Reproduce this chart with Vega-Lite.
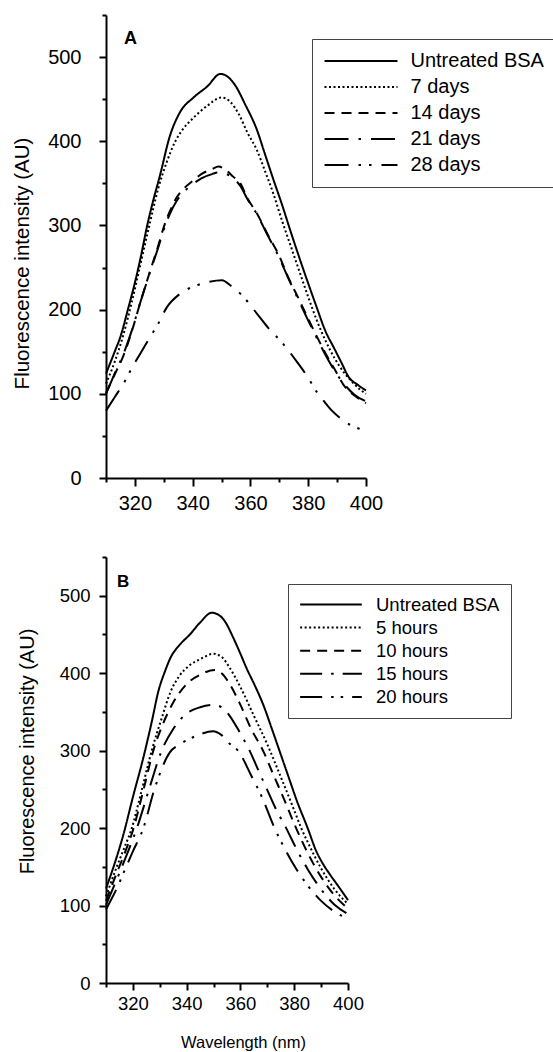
{
  "$schema": "https://vega.github.io/schema/vega-lite/v6.json",
  "background": "white",
  "padding": {"left": 12, "top": 5, "right": 0, "bottom": 0},
  "config": {
    "font": "Liberation Sans",
    "view": {"stroke": null},
    "line": {"color": "black", "strokeWidth": 2},
    "axis": {"domainColor": "black", "domainWidth": 2, "tickColor": "black", "tickWidth": 2, "labelColor": "black", "titleColor": "black", "titleFontWeight": "normal", "grid": false, "labelFont": "Liberation Sans", "titleFont": "Liberation Sans", "labelOverlap": false, "labelFlush": false, "labelBound": false},
    "title": {"font": "Liberation Sans", "color": "black"},
    "concat": {"spacing": 35}
  },
  "datasets": {
    "a": [
      {"series": "Untreated BSA", "wl": 310, "fi": 124}, {"series": "Untreated BSA", "wl": 313, "fi": 150}, {"series": "Untreated BSA", "wl": 315, "fi": 168}, {"series": "Untreated BSA", "wl": 317.8, "fi": 203}, {"series": "Untreated BSA", "wl": 320, "fi": 232}, {"series": "Untreated BSA", "wl": 322, "fi": 262}, {"series": "Untreated BSA", "wl": 324.2, "fi": 299}, {"series": "Untreated BSA", "wl": 326, "fi": 325}, {"series": "Untreated BSA", "wl": 328.8, "fi": 361}, {"series": "Untreated BSA", "wl": 332, "fi": 405}, {"series": "Untreated BSA", "wl": 335.7, "fi": 435}, {"series": "Untreated BSA", "wl": 340.3, "fi": 452}, {"series": "Untreated BSA", "wl": 345, "fi": 465}, {"series": "Untreated BSA", "wl": 349.6, "fi": 480}, {"series": "Untreated BSA", "wl": 352, "fi": 477}, {"series": "Untreated BSA", "wl": 355, "fi": 465}, {"series": "Untreated BSA", "wl": 358, "fi": 445}, {"series": "Untreated BSA", "wl": 362.3, "fi": 413}, {"series": "Untreated BSA", "wl": 365, "fi": 385}, {"series": "Untreated BSA", "wl": 368, "fi": 354}, {"series": "Untreated BSA", "wl": 371, "fi": 324}, {"series": "Untreated BSA", "wl": 373.8, "fi": 294}, {"series": "Untreated BSA", "wl": 376.7, "fi": 264}, {"series": "Untreated BSA", "wl": 379.6, "fi": 235}, {"series": "Untreated BSA", "wl": 382.7, "fi": 205}, {"series": "Untreated BSA", "wl": 385.9, "fi": 175}, {"series": "Untreated BSA", "wl": 389, "fi": 154}, {"series": "Untreated BSA", "wl": 391.5, "fi": 137}, {"series": "Untreated BSA", "wl": 394, "fi": 120}, {"series": "Untreated BSA", "wl": 397, "fi": 111}, {"series": "Untreated BSA", "wl": 400, "fi": 104},
      {"series": "7 days", "wl": 310, "fi": 112}, {"series": "7 days", "wl": 313, "fi": 138}, {"series": "7 days", "wl": 316, "fi": 170}, {"series": "7 days", "wl": 319, "fi": 210}, {"series": "7 days", "wl": 322, "fi": 255}, {"series": "7 days", "wl": 325, "fi": 300}, {"series": "7 days", "wl": 328, "fi": 343}, {"series": "7 days", "wl": 331, "fi": 375}, {"series": "7 days", "wl": 334, "fi": 400}, {"series": "7 days", "wl": 337, "fi": 416}, {"series": "7 days", "wl": 340, "fi": 427}, {"series": "7 days", "wl": 345, "fi": 442}, {"series": "7 days", "wl": 350, "fi": 452}, {"series": "7 days", "wl": 353, "fi": 447}, {"series": "7 days", "wl": 356, "fi": 432}, {"series": "7 days", "wl": 359, "fi": 410}, {"series": "7 days", "wl": 362.3, "fi": 389}, {"series": "7 days", "wl": 365, "fi": 365}, {"series": "7 days", "wl": 368, "fi": 337}, {"series": "7 days", "wl": 371, "fi": 305}, {"series": "7 days", "wl": 374, "fi": 275}, {"series": "7 days", "wl": 377, "fi": 245}, {"series": "7 days", "wl": 380, "fi": 215}, {"series": "7 days", "wl": 383, "fi": 187}, {"series": "7 days", "wl": 386, "fi": 163}, {"series": "7 days", "wl": 389, "fi": 143}, {"series": "7 days", "wl": 392, "fi": 127}, {"series": "7 days", "wl": 395, "fi": 115}, {"series": "7 days", "wl": 398, "fi": 105}, {"series": "7 days", "wl": 400, "fi": 100},
      {"series": "14 days", "wl": 310, "fi": 101}, {"series": "14 days", "wl": 313, "fi": 123}, {"series": "14 days", "wl": 316, "fi": 145}, {"series": "14 days", "wl": 319, "fi": 175}, {"series": "14 days", "wl": 322, "fi": 210}, {"series": "14 days", "wl": 325, "fi": 243}, {"series": "14 days", "wl": 328, "fi": 275}, {"series": "14 days", "wl": 330, "fi": 298}, {"series": "14 days", "wl": 332, "fi": 316}, {"series": "14 days", "wl": 334.6, "fi": 334}, {"series": "14 days", "wl": 337, "fi": 344}, {"series": "14 days", "wl": 340.4, "fi": 354}, {"series": "14 days", "wl": 343, "fi": 361}, {"series": "14 days", "wl": 346.7, "fi": 367}, {"series": "14 days", "wl": 349, "fi": 370}, {"series": "14 days", "wl": 351, "fi": 367}, {"series": "14 days", "wl": 354, "fi": 358}, {"series": "14 days", "wl": 356.5, "fi": 350}, {"series": "14 days", "wl": 359, "fi": 332}, {"series": "14 days", "wl": 362.3, "fi": 314}, {"series": "14 days", "wl": 366, "fi": 289}, {"series": "14 days", "wl": 369.8, "fi": 265}, {"series": "14 days", "wl": 373, "fi": 239}, {"series": "14 days", "wl": 376.7, "fi": 213}, {"series": "14 days", "wl": 380, "fi": 189}, {"series": "14 days", "wl": 383, "fi": 168}, {"series": "14 days", "wl": 386, "fi": 148}, {"series": "14 days", "wl": 389, "fi": 130}, {"series": "14 days", "wl": 392.8, "fi": 108}, {"series": "14 days", "wl": 396, "fi": 98}, {"series": "14 days", "wl": 400, "fi": 89},
      {"series": "21 days", "wl": 310, "fi": 100}, {"series": "21 days", "wl": 313, "fi": 124}, {"series": "21 days", "wl": 316, "fi": 147}, {"series": "21 days", "wl": 319, "fi": 176}, {"series": "21 days", "wl": 322, "fi": 210}, {"series": "21 days", "wl": 325, "fi": 242}, {"series": "21 days", "wl": 328, "fi": 273}, {"series": "21 days", "wl": 330, "fi": 295}, {"series": "21 days", "wl": 332, "fi": 313}, {"series": "21 days", "wl": 334.6, "fi": 330}, {"series": "21 days", "wl": 337, "fi": 340}, {"series": "21 days", "wl": 340.4, "fi": 350}, {"series": "21 days", "wl": 343, "fi": 356}, {"series": "21 days", "wl": 346.7, "fi": 361}, {"series": "21 days", "wl": 349, "fi": 363}, {"series": "21 days", "wl": 351, "fi": 362}, {"series": "21 days", "wl": 354, "fi": 356}, {"series": "21 days", "wl": 356.5, "fi": 347}, {"series": "21 days", "wl": 359, "fi": 331}, {"series": "21 days", "wl": 362.3, "fi": 313}, {"series": "21 days", "wl": 366, "fi": 288}, {"series": "21 days", "wl": 369.8, "fi": 263}, {"series": "21 days", "wl": 373, "fi": 238}, {"series": "21 days", "wl": 376.7, "fi": 211}, {"series": "21 days", "wl": 380, "fi": 187}, {"series": "21 days", "wl": 383, "fi": 166}, {"series": "21 days", "wl": 386, "fi": 146}, {"series": "21 days", "wl": 389, "fi": 128}, {"series": "21 days", "wl": 392.8, "fi": 110}, {"series": "21 days", "wl": 396, "fi": 99}, {"series": "21 days", "wl": 400, "fi": 91},
      {"series": "28 days", "wl": 310, "fi": 80}, {"series": "28 days", "wl": 313, "fi": 96}, {"series": "28 days", "wl": 316.7, "fi": 116}, {"series": "28 days", "wl": 319, "fi": 131}, {"series": "28 days", "wl": 321.9, "fi": 148}, {"series": "28 days", "wl": 325, "fi": 166}, {"series": "28 days", "wl": 327.7, "fi": 181}, {"series": "28 days", "wl": 331.1, "fi": 203}, {"series": "28 days", "wl": 335.7, "fi": 219}, {"series": "28 days", "wl": 341.5, "fi": 229}, {"series": "28 days", "wl": 345.5, "fi": 233}, {"series": "28 days", "wl": 350.2, "fi": 235}, {"series": "28 days", "wl": 353, "fi": 229}, {"series": "28 days", "wl": 357.1, "fi": 217}, {"series": "28 days", "wl": 362.3, "fi": 195}, {"series": "28 days", "wl": 366, "fi": 179}, {"series": "28 days", "wl": 370.9, "fi": 161}, {"series": "28 days", "wl": 376.1, "fi": 138}, {"series": "28 days", "wl": 380, "fi": 119}, {"series": "28 days", "wl": 383, "fi": 102}, {"series": "28 days", "wl": 385.5, "fi": 91}, {"series": "28 days", "wl": 388.2, "fi": 80}, {"series": "28 days", "wl": 391.5, "fi": 70}, {"series": "28 days", "wl": 395.1, "fi": 62}, {"series": "28 days", "wl": 398, "fi": 58}, {"series": "28 days", "wl": 400, "fi": 55}
    ],
    "b": [
      {"series": "Untreated BSA", "wl": 310, "fi": 122}, {"series": "Untreated BSA", "wl": 313, "fi": 152}, {"series": "Untreated BSA", "wl": 316.5, "fi": 192}, {"series": "Untreated BSA", "wl": 320, "fi": 240}, {"series": "Untreated BSA", "wl": 323.9, "fi": 291}, {"series": "Untreated BSA", "wl": 327, "fi": 337}, {"series": "Untreated BSA", "wl": 329.5, "fi": 377}, {"series": "Untreated BSA", "wl": 332, "fi": 403}, {"series": "Untreated BSA", "wl": 334, "fi": 420}, {"series": "Untreated BSA", "wl": 337.5, "fi": 437}, {"series": "Untreated BSA", "wl": 341.2, "fi": 450}, {"series": "Untreated BSA", "wl": 344.9, "fi": 465}, {"series": "Untreated BSA", "wl": 349.3, "fi": 478}, {"series": "Untreated BSA", "wl": 352, "fi": 475}, {"series": "Untreated BSA", "wl": 354, "fi": 468}, {"series": "Untreated BSA", "wl": 357.3, "fi": 446}, {"series": "Untreated BSA", "wl": 360, "fi": 425}, {"series": "Untreated BSA", "wl": 362.2, "fi": 407}, {"series": "Untreated BSA", "wl": 365.5, "fi": 383}, {"series": "Untreated BSA", "wl": 368.4, "fi": 360}, {"series": "Untreated BSA", "wl": 371.5, "fi": 330}, {"series": "Untreated BSA", "wl": 374.5, "fi": 300}, {"series": "Untreated BSA", "wl": 378, "fi": 265}, {"series": "Untreated BSA", "wl": 381, "fi": 235}, {"series": "Untreated BSA", "wl": 385, "fi": 200}, {"series": "Untreated BSA", "wl": 388.1, "fi": 171}, {"series": "Untreated BSA", "wl": 391, "fi": 152}, {"series": "Untreated BSA", "wl": 393.1, "fi": 141}, {"series": "Untreated BSA", "wl": 396.8, "fi": 123}, {"series": "Untreated BSA", "wl": 400, "fi": 107},
      {"series": "5 hours", "wl": 310, "fi": 112}, {"series": "5 hours", "wl": 314, "fi": 150}, {"series": "5 hours", "wl": 316.5, "fi": 172}, {"series": "5 hours", "wl": 319.6, "fi": 200}, {"series": "5 hours", "wl": 323, "fi": 245}, {"series": "5 hours", "wl": 327, "fi": 300}, {"series": "5 hours", "wl": 331, "fi": 345}, {"series": "5 hours", "wl": 334, "fi": 376}, {"series": "5 hours", "wl": 337, "fi": 395}, {"series": "5 hours", "wl": 341, "fi": 410}, {"series": "5 hours", "wl": 345, "fi": 418}, {"series": "5 hours", "wl": 350, "fi": 425}, {"series": "5 hours", "wl": 353, "fi": 421}, {"series": "5 hours", "wl": 356, "fi": 407}, {"series": "5 hours", "wl": 360, "fi": 382}, {"series": "5 hours", "wl": 365, "fi": 345}, {"series": "5 hours", "wl": 370, "fi": 308}, {"series": "5 hours", "wl": 375, "fi": 266}, {"series": "5 hours", "wl": 380, "fi": 223}, {"series": "5 hours", "wl": 382.6, "fi": 200}, {"series": "5 hours", "wl": 385, "fi": 182}, {"series": "5 hours", "wl": 390, "fi": 148}, {"series": "5 hours", "wl": 395, "fi": 121}, {"series": "5 hours", "wl": 400, "fi": 102},
      {"series": "10 hours", "wl": 310, "fi": 106}, {"series": "10 hours", "wl": 314, "fi": 142}, {"series": "10 hours", "wl": 317, "fi": 168}, {"series": "10 hours", "wl": 320, "fi": 197}, {"series": "10 hours", "wl": 324, "fi": 250}, {"series": "10 hours", "wl": 327.6, "fi": 300}, {"series": "10 hours", "wl": 331, "fi": 333}, {"series": "10 hours", "wl": 335, "fi": 362}, {"series": "10 hours", "wl": 340, "fi": 386}, {"series": "10 hours", "wl": 345, "fi": 398}, {"series": "10 hours", "wl": 350.5, "fi": 404}, {"series": "10 hours", "wl": 353, "fi": 400}, {"series": "10 hours", "wl": 356, "fi": 386}, {"series": "10 hours", "wl": 360, "fi": 359}, {"series": "10 hours", "wl": 364, "fi": 328}, {"series": "10 hours", "wl": 368.4, "fi": 300}, {"series": "10 hours", "wl": 372, "fi": 271}, {"series": "10 hours", "wl": 376, "fi": 239}, {"series": "10 hours", "wl": 380.7, "fi": 200}, {"series": "10 hours", "wl": 385, "fi": 168}, {"series": "10 hours", "wl": 390, "fi": 137}, {"series": "10 hours", "wl": 395, "fi": 113}, {"series": "10 hours", "wl": 400, "fi": 96},
      {"series": "15 hours", "wl": 310, "fi": 101}, {"series": "15 hours", "wl": 315, "fi": 142}, {"series": "15 hours", "wl": 318, "fi": 168}, {"series": "15 hours", "wl": 321.5, "fi": 200}, {"series": "15 hours", "wl": 326, "fi": 250}, {"series": "15 hours", "wl": 330.7, "fi": 300}, {"series": "15 hours", "wl": 335, "fi": 328}, {"series": "15 hours", "wl": 340, "fi": 348}, {"series": "15 hours", "wl": 345, "fi": 356}, {"series": "15 hours", "wl": 350, "fi": 359}, {"series": "15 hours", "wl": 353, "fi": 356}, {"series": "15 hours", "wl": 356, "fi": 345}, {"series": "15 hours", "wl": 359.5, "fi": 325}, {"series": "15 hours", "wl": 363.4, "fi": 300}, {"series": "15 hours", "wl": 367, "fi": 272}, {"series": "15 hours", "wl": 370, "fi": 249}, {"series": "15 hours", "wl": 373, "fi": 226}, {"series": "15 hours", "wl": 377, "fi": 200}, {"series": "15 hours", "wl": 381, "fi": 172}, {"series": "15 hours", "wl": 385, "fi": 147}, {"series": "15 hours", "wl": 390, "fi": 121}, {"series": "15 hours", "wl": 395, "fi": 101}, {"series": "15 hours", "wl": 400, "fi": 89},
      {"series": "20 hours", "wl": 310, "fi": 95}, {"series": "20 hours", "wl": 314, "fi": 122}, {"series": "20 hours", "wl": 317, "fi": 146}, {"series": "20 hours", "wl": 320, "fi": 170}, {"series": "20 hours", "wl": 323.9, "fi": 200}, {"series": "20 hours", "wl": 328, "fi": 250}, {"series": "20 hours", "wl": 333.8, "fi": 298}, {"series": "20 hours", "wl": 337.4, "fi": 308}, {"series": "20 hours", "wl": 341, "fi": 315}, {"series": "20 hours", "wl": 344.9, "fi": 321}, {"series": "20 hours", "wl": 349.8, "fi": 325}, {"series": "20 hours", "wl": 353, "fi": 320}, {"series": "20 hours", "wl": 356, "fi": 309}, {"series": "20 hours", "wl": 359.1, "fi": 300}, {"series": "20 hours", "wl": 364, "fi": 268}, {"series": "20 hours", "wl": 368, "fi": 240}, {"series": "20 hours", "wl": 372.7, "fi": 200}, {"series": "20 hours", "wl": 377, "fi": 170}, {"series": "20 hours", "wl": 381, "fi": 146}, {"series": "20 hours", "wl": 385, "fi": 126}, {"series": "20 hours", "wl": 390, "fi": 106}, {"series": "20 hours", "wl": 395, "fi": 92}, {"series": "20 hours", "wl": 400, "fi": 83}
    ]
  },
  "resolve": {"scale": {"strokeDash": "independent", "x": "independent", "y": "independent"}, "legend": {"strokeDash": "independent"}},
  "vconcat": [
    {
      "data": {"name": "a"},
      "width": 260,
      "height": 463,
      "title": {"text": "A", "anchor": "start", "frame": "group", "fontSize": 18, "fontWeight": "bold", "baseline": "top", "offset": 0, "dx": 18, "dy": 43},
      "mark": {"type": "line", "interpolate": "monotone", "strokeWidth": 2},
      "encoding": {
        "x": {"field": "wl", "type": "quantitative", "scale": {"domain": [310, 400], "nice": false, "zero": false},
          "axis": {"title": null, "values": [310, 320, 330, 340, 350, 360, 370, 380, 390, 400], "labelExpr": "datum.value % 20 === 0 ? datum.label : ''", "tickSize": {"condition": {"test": "datum.value % 20 === 0", "value": 8}, "value": 4}, "labelFontSize": 20, "labelPadding": 7}},
        "y": {"field": "fi", "type": "quantitative", "scale": {"domain": [0, 550], "nice": false},
          "axis": {"title": "Fluorescence intensity (AU)", "values": [0, 50, 100, 150, 200, 250, 300, 350, 400, 450, 500, 550], "labelExpr": "datum.value % 100 === 0 ? datum.label : ''", "tickSize": {"condition": {"test": "datum.value % 100 === 0", "value": 7}, "value": 4}, "labelFontSize": 20, "labelPadding": 18, "titleFontSize": 20.5, "titleX": -73.5, "titleY": 248, "titleBaseline": "bottom"}},
        "strokeDash": {"field": "series", "type": "nominal",
          "scale": {"domain": ["Untreated BSA", "7 days", "14 days", "21 days", "28 days"], "range": [[1, 0], [2, 2.5], [10, 7], [24, 10, 2.5, 10], [24, 10, 2.5, 8, 2.5, 10]]},
          "legend": {"orient": "none", "legendX": 206, "legendY": 24, "title": null, "symbolType": "stroke", "symbolSize": 5329, "clipHeight": 21, "symbolStrokeWidth": 2.5, "symbolStrokeColor": "black", "labelFontSize": 20, "labelColor": "black", "labelFont": "Liberation Sans", "labelOffset": 12, "rowPadding": 5, "padding": 11.5, "strokeColor": "#444", "fillColor": "white", "labelLimit": 0, "symbolOffset": 0}}
      }
    },
    {
      "data": {"name": "b"},
      "width": 242,
      "height": 426,
      "title": {"text": "B", "anchor": "start", "frame": "group", "fontSize": 17, "fontWeight": "bold", "baseline": "top", "offset": 0, "dx": 11, "dy": 43},
      "mark": {"type": "line", "interpolate": "monotone", "strokeWidth": 2},
      "encoding": {
        "x": {"field": "wl", "type": "quantitative", "scale": {"domain": [310, 400], "nice": false, "zero": false},
          "axis": {"title": "Wavelength (nm)", "values": [310, 320, 330, 340, 350, 360, 370, 380, 390, 400], "labelExpr": "datum.value % 20 === 0 ? datum.label : ''", "tickSize": {"condition": {"test": "datum.value % 20 === 0", "value": 7}, "value": 4}, "labelFontSize": 18.5, "labelPadding": 4, "titleFontSize": 16.5, "titlePadding": 22, "titleX": 137}},
        "y": {"field": "fi", "type": "quantitative", "scale": {"domain": [0, 550], "nice": false},
          "axis": {"title": "Fluorescence intensity (AU)", "values": [0, 50, 100, 150, 200, 250, 300, 350, 400, 450, 500, 550], "labelExpr": "datum.value % 100 === 0 ? datum.label : ''", "tickSize": {"condition": {"test": "datum.value % 100 === 0", "value": 7}, "value": 4}, "labelFontSize": 18.5, "labelPadding": 9, "titleFontSize": 20, "titleX": -68.5, "titleY": 194, "titleBaseline": "bottom"}},
        "strokeDash": {"field": "series", "type": "nominal",
          "scale": {"domain": ["Untreated BSA", "5 hours", "10 hours", "15 hours", "20 hours"], "range": [[1, 0], [2, 2.5], [10, 7], [22, 9, 2.5, 9], [22, 9, 2.5, 7, 2.5, 9]]},
          "legend": {"orient": "none", "legendX": 182, "legendY": 27, "title": null, "symbolType": "stroke", "symbolSize": 3807, "clipHeight": 19, "symbolStrokeWidth": 2.5, "symbolStrokeColor": "black", "labelFontSize": 18.5, "labelColor": "black", "labelFont": "Liberation Sans", "labelOffset": 13, "rowPadding": 4.1, "padding": 11, "strokeColor": "#444", "fillColor": "white", "labelLimit": 0, "symbolOffset": 0}}
      }
    }
  ]
}
